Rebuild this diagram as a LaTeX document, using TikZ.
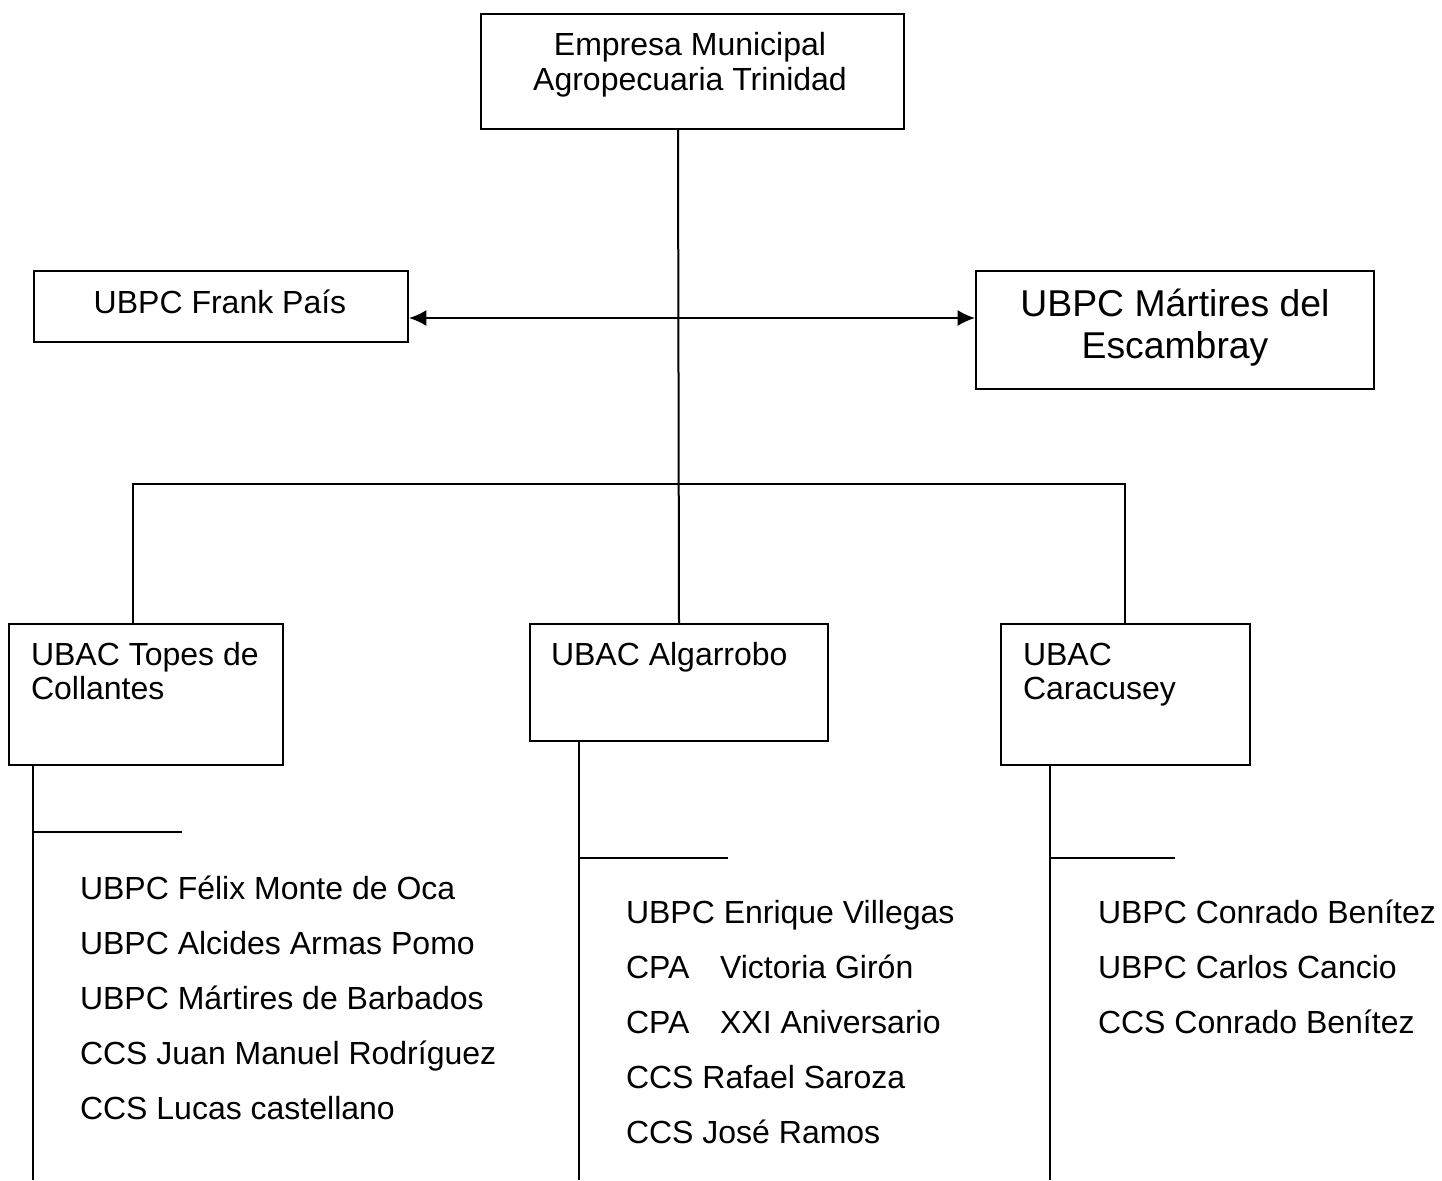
\documentclass[tikz,border=0pt]{standalone}
\usepackage{fontspec}
\setmainfont{Liberation Sans}
\usetikzlibrary{arrows.meta}
\newcommand\px{0.375pt}
\tikzset{
  caja/.style={draw, anchor=north west, inner sep=0pt},
  txt/.style={inner sep=0pt, font=\fontsize{12}{14}\selectfont},
  txtgrande/.style={inner sep=0pt, font=\fontsize{14}{16}\selectfont},
}
\begin{document}
\begin{tikzpicture}[x=\px, y=-\px, line width=0.75pt]
\useasboundingbox (0,0) rectangle (1442,1180);

% Cajas
\node[caja, minimum width=423*\px, minimum height=115*\px] (emp) at (480,13) {};
\node[caja, minimum width=374*\px, minimum height=71*\px] (frank) at (33,270) {};
\node[caja, minimum width=398*\px, minimum height=118*\px] (martires) at (975,270) {};
\node[caja, minimum width=274*\px, minimum height=141*\px] (topes) at (8,623) {};
\node[caja, minimum width=298*\px, minimum height=117*\px] (algarrobo) at (529,623) {};
\node[caja, minimum width=249*\px, minimum height=141*\px] (caracusey) at (1000,623) {};

% Textos de las cajas
\node[txt, anchor=base] (emp1) at (690,55) {Empresa Municipal};
\node[txt, anchor=base] (emp2) at (690,90) {Agropecuaria Trinidad};
\node[txt, anchor=base] (frank1) at (220,313) {UBPC Frank País};
\node[txtgrande, anchor=base] (mart1) at (1175,316) {UBPC Mártires del};
\node[txtgrande, anchor=base] (mart2) at (1175,358) {Escambray};
\node[txt, anchor=base west] (topes1) at (30,665) {UBAC Topes de};
\node[txt, anchor=base west] (topes2) at (30,699) {Collantes};
\node[txt, anchor=base west] (alg1) at (550,665) {UBAC Algarrobo};
\node[txt, anchor=base west] (car1) at (1022,665) {UBAC};
\node[txt, anchor=base west] (car2) at (1022,699) {Caracusey};

% Lineas
\coordinate (tronco) at (678,484);
\coordinate (flecha) at (678,318);
\coordinate (bi) at (133,484);
\coordinate (bd) at (1125,484);
\draw (emp.south -| tronco) -- (algarrobo.north);
\draw[<->,>={Latex[length=6.5pt,width=6pt]}] (frank.east |- flecha) -- (martires.west |- flecha);
\draw (topes.north -| bi) -- (bi) -- (bd) -- (caracusey.north -| bd);

% Bajantes
\coordinate (pt) at (33,1180);
\coordinate (pa) at (579,1180);
\coordinate (pc) at (1050,1180);
\draw (topes.south -| pt) -- (pt);
\draw (algarrobo.south -| pa) -- (pa);
\draw (caracusey.south -| pc) -- (pc);
\draw (33,832) -- ++(149,0);
\draw (579,858) -- ++(149,0);
\draw (1050,858) -- ++(125,0);

% Listas
\foreach \t [count=\i] in {UBPC Félix Monte de Oca, UBPC Alcides Armas Pomo,
  UBPC Mártires de Barbados, CCS Juan Manuel Rodríguez, CCS Lucas castellano}
  \node[txt, anchor=base west] (ti\i) at (79,844+55*\i) {\t};
\foreach \t [count=\i] in {UBPC Enrique Villegas, CPA\hspace{11.5pt}Victoria Girón,
  CPA\hspace{11.5pt}XXI Aniversario, CCS Rafael Saroza, CCS José Ramos}
  \node[txt, anchor=base west] (al\i) at (625,868+55*\i) {\t};
\foreach \t [count=\i] in {UBPC Conrado Benítez, UBPC Carlos Cancio, CCS Conrado Benítez}
  \node[txt, anchor=base west] (ca\i) at (1097,868+55*\i) {\t};
\end{tikzpicture}
\end{document}
